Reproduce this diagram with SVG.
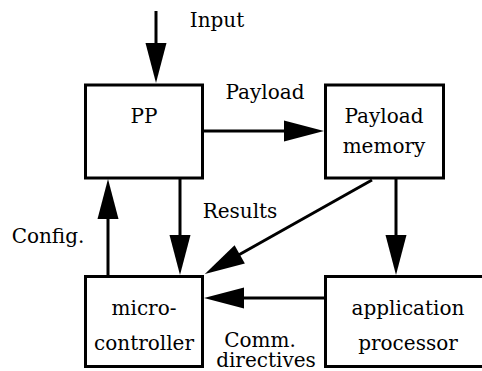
<svg xmlns="http://www.w3.org/2000/svg" width="482" height="371" viewBox="0 0 482 371" font-family="DejaVu Serif, serif" font-size="20">
<defs>
<style>
.box{fill:#fff;stroke:#000;stroke-width:3}
.ln{fill:none;stroke:#000;stroke-width:3;marker-end:url(#ah)}
.t{fill:#000;text-anchor:middle}
</style>
<marker id="ah" markerUnits="userSpaceOnUse" markerWidth="42" markerHeight="22" refX="10" refY="10.5" orient="auto" overflow="visible">
<path d="M0,0 L40,10.5 L0,21 Z" fill="#000"/>
</marker>
</defs>
<g id="connectors">
<line class="ln" x1="156" y1="11" x2="156" y2="53"/>
<line class="ln" x1="204" y1="131" x2="294" y2="131"/>
<line class="ln" x1="108" y1="275" x2="108" y2="209"/>
<line class="ln" x1="180" y1="179" x2="180" y2="245"/>
<line class="ln" x1="372" y1="180" x2="231" y2="259.3"/>
<line class="ln" x1="396" y1="179" x2="396" y2="245"/>
<line class="ln" x1="324" y1="298" x2="234" y2="298"/>
</g>
<g id="labels">
<text class="t" x="217" y="27">Input</text>
<text class="t" x="265" y="99">Payload</text>
<text class="t" x="240" y="218">Results</text>
<text class="t" x="48" y="243">Config.</text>
<text class="t" x="260" y="347">Comm.</text>
<text class="t" x="266" y="367">directives</text>
</g>
<g id="pp">
<rect class="box" x="85.5" y="85" width="117" height="93"/>
<text class="t" x="144" y="123">PP</text>
</g>
<g id="payload-memory">
<rect class="box" x="325.5" y="85" width="118" height="93"/>
<text class="t" x="384" y="123">Payload</text>
<text class="t" x="384" y="153">memory</text>
</g>
<g id="microcontroller">
<rect class="box" x="85.5" y="276.5" width="117" height="90"/>
<text class="t" x="144" y="315">micro-</text>
<text class="t" x="144" y="350">controller</text>
</g>
<g id="application-processor">
<rect class="box" x="325.5" y="276.5" width="170" height="90"/>
<text class="t" x="408" y="315">application</text>
<text class="t" x="408" y="350">processor</text>
</g>
</svg>
